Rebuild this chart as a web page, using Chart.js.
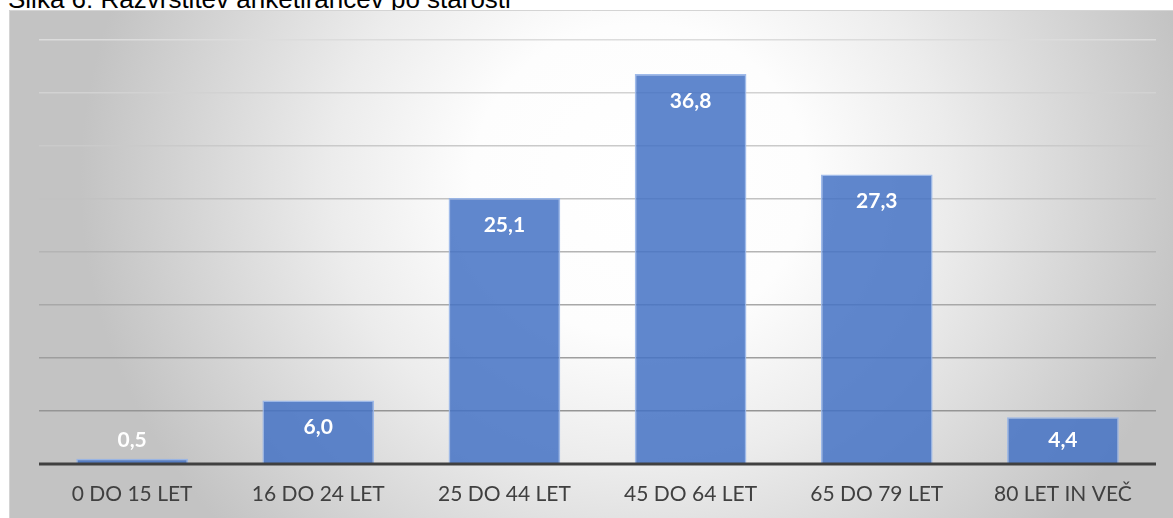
<!DOCTYPE html>
<html>
<head>
<meta charset="utf-8">
<script src="https://cdn.jsdelivr.net/npm/chart.js@4.4.1/dist/chart.umd.min.js"></script>
<style>
    html, body { margin: 0; padding: 0; background: #fff; overflow: hidden; }
    #wrap { position: relative; width: 1173px; height: 518px; }
    #naslov {
        position: absolute; left: 8px; top: -14px;
        font: 26px/26px "Liberation Sans", Arial, sans-serif;
        color: #000; white-space: nowrap; z-index: 0;
    }
    #starost { position: absolute; left: 0; top: 0; z-index: 1; }
</style>
</head>
<body>
<div id="wrap">
    <div id="naslov">Slika 6: Razvrstitev anketirancev po starosti</div>
    <canvas id="starost" width="1173" height="518"></canvas>
</div>
<script>
// podatki (v %)
const kategorije = ['0 DO 15 LET', '16 DO 24 LET', '25 DO 44 LET', '45 DO 64 LET', '65 DO 79 LET', '80 LET IN VEČ'];
const deleži = [0.5, 6.0, 25.1, 36.8, 27.3, 4.4];
const yMin = 0;
const yMax = 40;
const yKorak = 5;

// ozadje okvirja - radialni preliv kot v Excelu
const ozadjePlugin = {
    id: 'ozadje',
    beforeDraw(chart) {
        const c = chart.ctx;
        c.save();
        c.clearRect(0, 0, chart.width, chart.height);
        const cx = 640, cy = 180, rx = 560, ry = 520;
        c.save();
        c.beginPath();
        c.rect(9, 10, chart.width - 9, chart.height - 10);
        c.clip();
        c.translate(cx, cy);
        c.scale(1, ry / rx);
        const g = c.createRadialGradient(0, 0, 0, 0, 0, rx);
        g.addColorStop(0, '#ffffff');
        g.addColorStop(0.3, '#fdfdfd');
        g.addColorStop(0.55, '#ececec');
        g.addColorStop(1, '#c3c3c3');
        c.fillStyle = g;
        c.fillRect(-cx - 10, -cy * rx / ry - 10, chart.width + 20, chart.height * rx / ry + 40);
        c.restore();
        c.strokeStyle = '#d4d4d4';
        c.lineWidth = 1;
        c.beginPath();
        c.moveTo(9.5, chart.height);
        c.lineTo(9.5, 10.5);
        c.lineTo(chart.width, 10.5);
        c.stroke();
        c.restore();
    }
};

// debela osnovna črta in oznake vrednosti
const oznakePlugin = {
    id: 'oznake',
    afterDatasetsDraw(chart) {
        const c = chart.ctx;
        const y0 = chart.scales.y.getPixelForValue(0);
        c.save();
        c.strokeStyle = '#404040';
        c.lineWidth = 3;
        c.beginPath();
        c.moveTo(chart.chartArea.left, y0);
        c.lineTo(chart.chartArea.right, y0);
        c.stroke();

        c.fillStyle = '#ffffff';
        c.font = 'bold 21px Lato, "Open Sans", sans-serif';
        c.textAlign = 'center';
        c.textBaseline = 'middle';
        const meta = chart.getDatasetMeta(0);
        meta.data.forEach((bar, i) => {
            const y = Math.min(bar.y + 27, bar.base - 23);
            c.fillText(deleži[i].toFixed(1).replace('.', ','), bar.x, y);
        });
        c.restore();
    }
};

const barveMreže = { 40: '#dcdcdc', 35: '#d2d2d2', 30: '#cacaca', 25: '#c2c2c2', 20: '#b4b4b4', 15: '#a8a8a8', 10: '#9e9e9e', 5: '#959595', 0: 'rgba(0,0,0,0)' };

new Chart(document.getElementById('starost').getContext('2d'), {
    type: 'bar',
    data: {
        labels: kategorije,
        datasets: [{
            data: deleži,
            backgroundColor: 'rgba(68, 114, 196, 0.85)',
            borderColor: 'rgba(150, 180, 232, 0.9)',
            borderWidth: 1.5,
            barPercentage: 0.6,
            categoryPercentage: 1.0
        }]
    },
    options: {
        responsive: false,
        animation: false,
        layout: {
            padding: { left: 39, right: 17, top: 40, bottom: 11 }
        },
        plugins: {
            legend: { display: false },
            title: { display: false },
            tooltip: { enabled: false }
        },
        scales: {
            x: {
                grid: { display: false, drawTicks: false },
                border: { display: false },
                afterFit: scale => { scale.height = 43; },
                ticks: {
                    color: '#404040',
                    padding: 18,
                    font: { family: 'Lato, "Open Sans", sans-serif', size: 21 },
                    maxRotation: 0,
                    autoSkip: false
                }
            },
            y: {
                min: yMin,
                max: yMax,
                ticks: { display: false, stepSize: yKorak },
                border: { display: false },
                grid: {
                    drawTicks: false,
                    lineWidth: 1.5,
                    color: ctx => barveMreže[ctx.tick.value] || '#bbbbbb'
                }
            }
        }
    },
    plugins: [ozadjePlugin, oznakePlugin]
});
</script>
</body>
</html>
